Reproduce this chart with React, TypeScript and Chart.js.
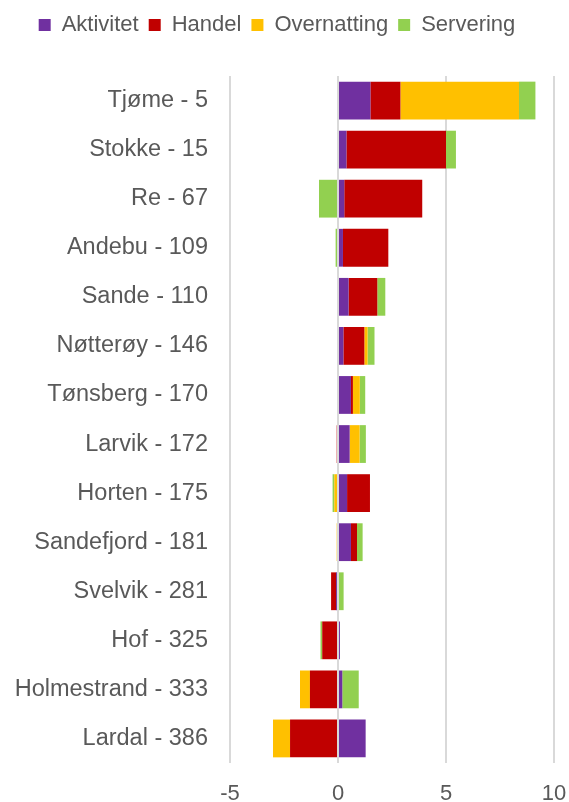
import React, { useEffect, useRef } from "react";
import { Chart, registerables } from "chart.js";

Chart.register(...registerables);

const categories = [
  "Tjøme - 5",
  "Stokke - 15",
  "Re - 67",
  "Andebu - 109",
  "Sande - 110",
  "Nøtterøy - 146",
  "Tønsberg - 170",
  "Larvik - 172",
  "Horten - 175",
  "Sandefjord - 181",
  "Svelvik - 281",
  "Hof - 325",
  "Holmestrand - 333",
  "Lardal - 386",
];

const aktivitet = [1.5, 0.39, 0.29, 0.23, 0.49, 0.25, 0.6, 0.54, 0.42, 0.6, -0.09, 0.09, 0.2, 1.28];
const handel = [1.39, 4.61, 3.61, 2.1, 1.33, 0.97, 0.09, -0.06, 1.06, 0.28, -0.23, -0.73, -1.3, -2.22];
const overnatting = [5.49, 0, 0, 0, 0, 0.15, 0.32, 0.46, -0.17, -0.06, 0, 0, -0.46, -0.79];
const servering = [0.76, 0.46, -0.88, -0.11, 0.37, 0.32, 0.25, 0.29, -0.08, 0.26, 0.26, -0.08, 0.76, 0];

const xMin = -5;
const xMax = 10;
const xStep = 5;

const FONT = "'Liberation Sans', Arial, sans-serif";
const TEXT = "#595959";

export default function App() {
  const ref = useRef<HTMLCanvasElement | null>(null);

  useEffect(() => {
    if (!ref.current) return;
    const chart = new Chart(ref.current, {
      type: "bar",
      data: {
        labels: categories,
        datasets: [
          { label: "Aktivitet", data: aktivitet, backgroundColor: "#7030A0" },
          { label: "Handel", data: handel, backgroundColor: "#C00000" },
          { label: "Overnatting", data: overnatting, backgroundColor: "#FFC000" },
          { label: "Servering", data: servering, backgroundColor: "#92D050" },
        ],
      },
      options: {
        indexAxis: "y",
        responsive: false,
        animation: false,
        layout: { padding: { top: 4, left: 0, right: 15, bottom: 0 } },
        datasets: {
          bar: { categoryPercentage: 1, barPercentage: 0.77, borderWidth: 0 },
        },
        plugins: {
          legend: {
            position: "top",
            labels: {
              boxWidth: 12,
              boxHeight: 12,
              padding: 10,
              color: TEXT,
              font: { family: FONT, size: 22 },
            },
          },
          tooltip: { enabled: false },
        },
        scales: {
          x: {
            type: "linear",
            stacked: true,
            min: xMin,
            max: xMax,
            ticks: {
              stepSize: xStep,
              color: TEXT,
              font: { family: FONT, size: 22 },
              padding: 18,
            },
            grid: { color: "#d9d9d9", lineWidth: 2, drawTicks: false },
            border: { display: false },
            afterFit: (s: any) => {
              s.height = 39;
              s.paddingLeft = 0;
              s.paddingRight = 0;
            },
          },
          xTop: {
            type: "linear",
            position: "top",
            min: 0,
            max: 1,
            grid: { display: false },
            border: { display: false },
            ticks: { display: false },
            afterFit: (s: any) => {
              s.height = 30;
              s.paddingLeft = 0;
              s.paddingRight = 0;
            },
          },
          y: {
            type: "category",
            stacked: true,
            ticks: {
              color: TEXT,
              font: { family: FONT, size: 23.5 },
              padding: 22,
            },
            grid: { display: false, drawTicks: false },
            border: { display: false },
            afterFit: (s: any) => {
              s.width = 230;
            },
          },
        },
      },
    } as any);
    return () => chart.destroy();
  }, []);

  return (
    <div style={{ position: "fixed", left: 0, top: 0, width: 569, height: 802, background: "#fff" }}>
      <canvas ref={ref} width={569} height={802} style={{ display: "block" }} />
    </div>
  );
}
